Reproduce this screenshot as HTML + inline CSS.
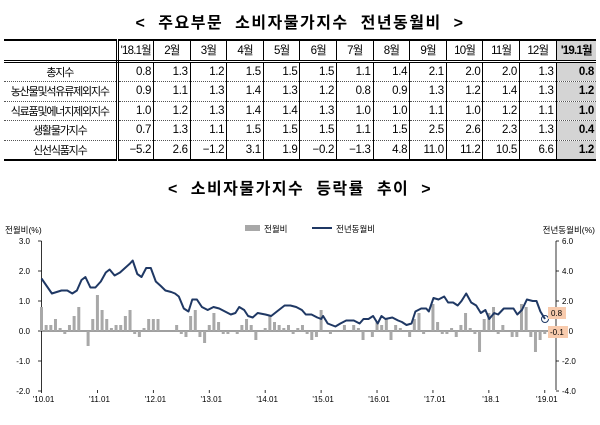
<!DOCTYPE html>
<html><head><meta charset="utf-8"><style>
body{margin:0;width:600px;height:425px;background:#fff;font-family:"Liberation Sans","Noto Sans CJK KR",sans-serif;overflow:hidden;position:relative}
.t1{position:absolute;top:9px;left:0;width:600px;text-align:center;font-size:16px;font-weight:bold;letter-spacing:1.5px;word-spacing:6px}
.t2{position:absolute;top:175px;left:0;width:600px;text-align:center;font-size:16px;font-weight:bold;letter-spacing:1.5px;word-spacing:6px}
table{position:absolute;left:4px;top:39px;width:592px;border-collapse:collapse;font-size:11.5px;table-layout:fixed}
td{height:18.5px;padding:0 2px;text-align:right;border-left:1px solid #000;border-bottom:1px dotted #555;white-space:nowrap;overflow:hidden;letter-spacing:-0.3px}
tr:first-child td{border-top:2px solid #000;border-bottom:3px double #000;text-align:center;letter-spacing:-0.8px}
tr:last-child td{border-bottom:2px solid #000}
td:first-child{text-align:center;border-left:none;border-right:3px double #000;font-size:11px;letter-spacing:-1.2px}
td:last-child{background:#d4d4d4;font-weight:bold}
svg{position:absolute;left:0;top:0}
</style></head><body>
<div class="t1">&lt; 주요부문 소비자물가지수 전년동월비 &gt;</div>
<table>
<colgroup><col style="width:113px"><col span="12" style="width:36.6px"><col style="width:39.8px"></colgroup>
<tr><td></td><td>'18.1월</td><td>2월</td><td>3월</td><td>4월</td><td>5월</td><td>6월</td><td>7월</td><td>8월</td><td>9월</td><td>10월</td><td>11월</td><td>12월</td><td>'19.1월</td></tr>
<tr><td>총지수</td><td>0.8</td><td>1.3</td><td>1.2</td><td>1.5</td><td>1.5</td><td>1.5</td><td>1.1</td><td>1.4</td><td>2.1</td><td>2.0</td><td>2.0</td><td>1.3</td><td>0.8</td></tr>
<tr><td>농산물및석유류제외지수</td><td>0.9</td><td>1.1</td><td>1.3</td><td>1.4</td><td>1.3</td><td>1.2</td><td>0.8</td><td>0.9</td><td>1.3</td><td>1.2</td><td>1.4</td><td>1.3</td><td>1.2</td></tr>
<tr><td>식료품및에너지제외지수</td><td>1.0</td><td>1.2</td><td>1.3</td><td>1.4</td><td>1.4</td><td>1.3</td><td>1.0</td><td>1.0</td><td>1.1</td><td>1.0</td><td>1.2</td><td>1.1</td><td>1.0</td></tr>
<tr><td>생활물가지수</td><td>0.7</td><td>1.3</td><td>1.1</td><td>1.5</td><td>1.5</td><td>1.5</td><td>1.1</td><td>1.5</td><td>2.5</td><td>2.6</td><td>2.3</td><td>1.3</td><td>0.4</td></tr>
<tr><td>신선식품지수</td><td>−5.2</td><td>2.6</td><td>−1.2</td><td>3.1</td><td>1.9</td><td>−0.2</td><td>−1.3</td><td>4.8</td><td>11.0</td><td>11.2</td><td>10.5</td><td>6.6</td><td>1.2</td></tr>
</table>
<div class="t2">&lt; 소비자물가지수 등락률 추이 &gt;</div>
<svg id="c" width="600" height="425" font-family="Liberation Sans, Noto Sans CJK KR, sans-serif" font-size="8"></svg>
<script>
var s='';
var x0=41.5,dx=4.66;
s+='<line x1="41.5" y1="241" x2="41.5" y2="390" stroke="#000" stroke-width="0.8"/>';
s+='<line x1="556" y1="241" x2="556" y2="390" stroke="#000" stroke-width="0.8"/>';
s+='<line x1="41.5" y1="331" x2="556" y2="331" stroke="#000" stroke-width="0.8"/>';
var L=[3,2,1,0,-1,-2];
L.forEach(function(v){var y=331-v*30;
s+='<line x1="38" y1="'+y+'" x2="41.5" y2="'+y+'" stroke="#000" stroke-width="0.8"/>';
s+='<text x="30" y="'+(y+3)+'" text-anchor="end">'+v.toFixed(1)+'</text>';
s+='<line x1="556" y1="'+y+'" x2="559" y2="'+y+'" stroke="#000" stroke-width="0.8"/>';
s+='<text x="562" y="'+(y+3)+'">'+(v*2).toFixed(1)+'</text>';
});
var labs=["'10.01","'11.01","'12.01","'13.01","'14.01","'15.01","'16.01","'17.01","'18.1","'19.01"];
labs.forEach(function(t,i){var x=x0+i*12*dx;
s+='<line x1="'+x+'" y1="390" x2="'+x+'" y2="393" stroke="#000" stroke-width="0.8"/>';
s+='<text x="'+(x+2)+'" y="402" text-anchor="middle">'+t+'</text>';});
var b=[0.8,0.2,0.2,0.4,0.1,-0.1,0.2,0.5,0.8,0.0,-0.5,0.4,
1.2,0.7,0.4,0.1,0.2,0.2,0.5,0.7,-0.1,-0.2,0.1,0.4,
0.4,0.4,0.0,0.0,0.0,0.2,-0.1,-0.2,0.5,0.7,-0.2,-0.4,
0.2,0.6,0.3,-0.1,-0.1,0.0,-0.1,0.2,0.4,0.2,-0.3,0.0,
0.1,0.5,0.3,0.2,0.1,0.2,-0.1,0.1,0.2,-0.1,-0.3,-0.2,
0.7,0.0,-0.1,0.0,0.0,0.2,0.0,0.2,0.1,-0.3,0.0,-0.2,
0.3,0.2,0.4,-0.3,0.2,0.1,0.0,-0.2,0.4,0.6,-0.1,0.0,
0.9,0.3,-0.1,-0.1,0.1,-0.2,0.2,0.6,0.1,-0.1,-0.7,0.4,
0.6,0.8,-0.1,0.2,0.0,-0.2,-0.2,0.9,0.8,-0.2,-0.7,-0.3,-0.1];
b.forEach(function(v,i){var x=x0+i*dx-1.5;var h=Math.abs(v)*30;var y=v>=0?331-h:331;
if(h>0)s+='<rect x="'+x+'" y="'+y+'" width="3" height="'+h+'" fill="#a8a8a8"/>';});
var p=[108,3.5,135,2.5,160,2.7,175,2.7,188,2.5,200,2.7,212,3.4,222,3.6,235,2.9,248,2.9,262,3.3,275,3.9,285,4.1,298,3.7,312,3.9,325,4.2,338,4.5,345,4.7,357,3.8,368,3.6,380,4.2,392,4.2,405,3.3,418,3.0,430,2.7,445,2.6,455,2.5,465,2.3,478,1.5,490,1.3,500,2.1,512,2.1,525,1.6,540,1.4,555,1.6,570,1.5,585,1.3,600,1.1,612,1.2,622,1.6,635,1.4,645,1.0,657,0.9,670,1.2,690,1.1,705,1.0,720,1.3,740,1.7,755,1.7,770,1.6,785,1.4,795,1.1,810,1.1,825,0.9,835,0.8,840,1.0,852,0.5,872,0.3,885,0.5,900,0.7,920,0.7,935,0.5,945,0.8,958,0.8,970,1.0,982,0.5,992,1.0,1002,0.8,1020,0.9,1035,0.7,1045,0.6,1057,0.4,1070,0.5,1080,1.3,1095,1.5,1108,1.5,1115,1.3,1127,2.2,1140,2.1,1155,2.3,1165,1.9,1178,1.9,1190,1.7,1200,2.0,1212,2.5,1225,1.9,1238,1.7,1250,1.2,1262,1.4,1272,0.8,1285,1.2,1295,1.1,1310,1.5,1335,1.5,1345,1.1,1357,1.4,1370,2.1,1385,2.0,1395,2.0,1405,1.3,1417,0.8];
var pts=[];for(var i=0;i<p.length;i+=2){pts.push((p[i]/2.6).toFixed(1)+','+(331-p[i+1]*15).toFixed(1));}
s+='<polyline points="'+pts.join(' ')+'" fill="none" stroke="#1f3864" stroke-width="2" stroke-linejoin="round"/>';
s+='<circle cx="545" cy="319" r="3.5" fill="none" stroke="#1f3864" stroke-width="1"/>';
s+='<rect x="548" y="307" width="18" height="12" fill="#f8cbad"/><text x="551" y="316" font-size="8">0.8</text>';
s+='<rect x="548" y="326" width="20" height="12" fill="#f8cbad"/><text x="550" y="335" font-size="8">-0.1</text>';
s+='<text x="5" y="233" font-size="8.5">전월비(%)</text>';
s+='<text x="595" y="233" font-size="8.5" text-anchor="end">전년동월비(%)</text>';
s+='<rect x="245" y="225" width="15" height="6" fill="#a8a8a8"/><text x="264" y="232" font-size="8.5">전월비</text>';
s+='<line x1="312" y1="228" x2="332" y2="228" stroke="#1f3864" stroke-width="2"/><text x="336" y="232" font-size="8.5">전년동월비</text>';
document.getElementById('c').innerHTML=s;
</script>
</body></html>
